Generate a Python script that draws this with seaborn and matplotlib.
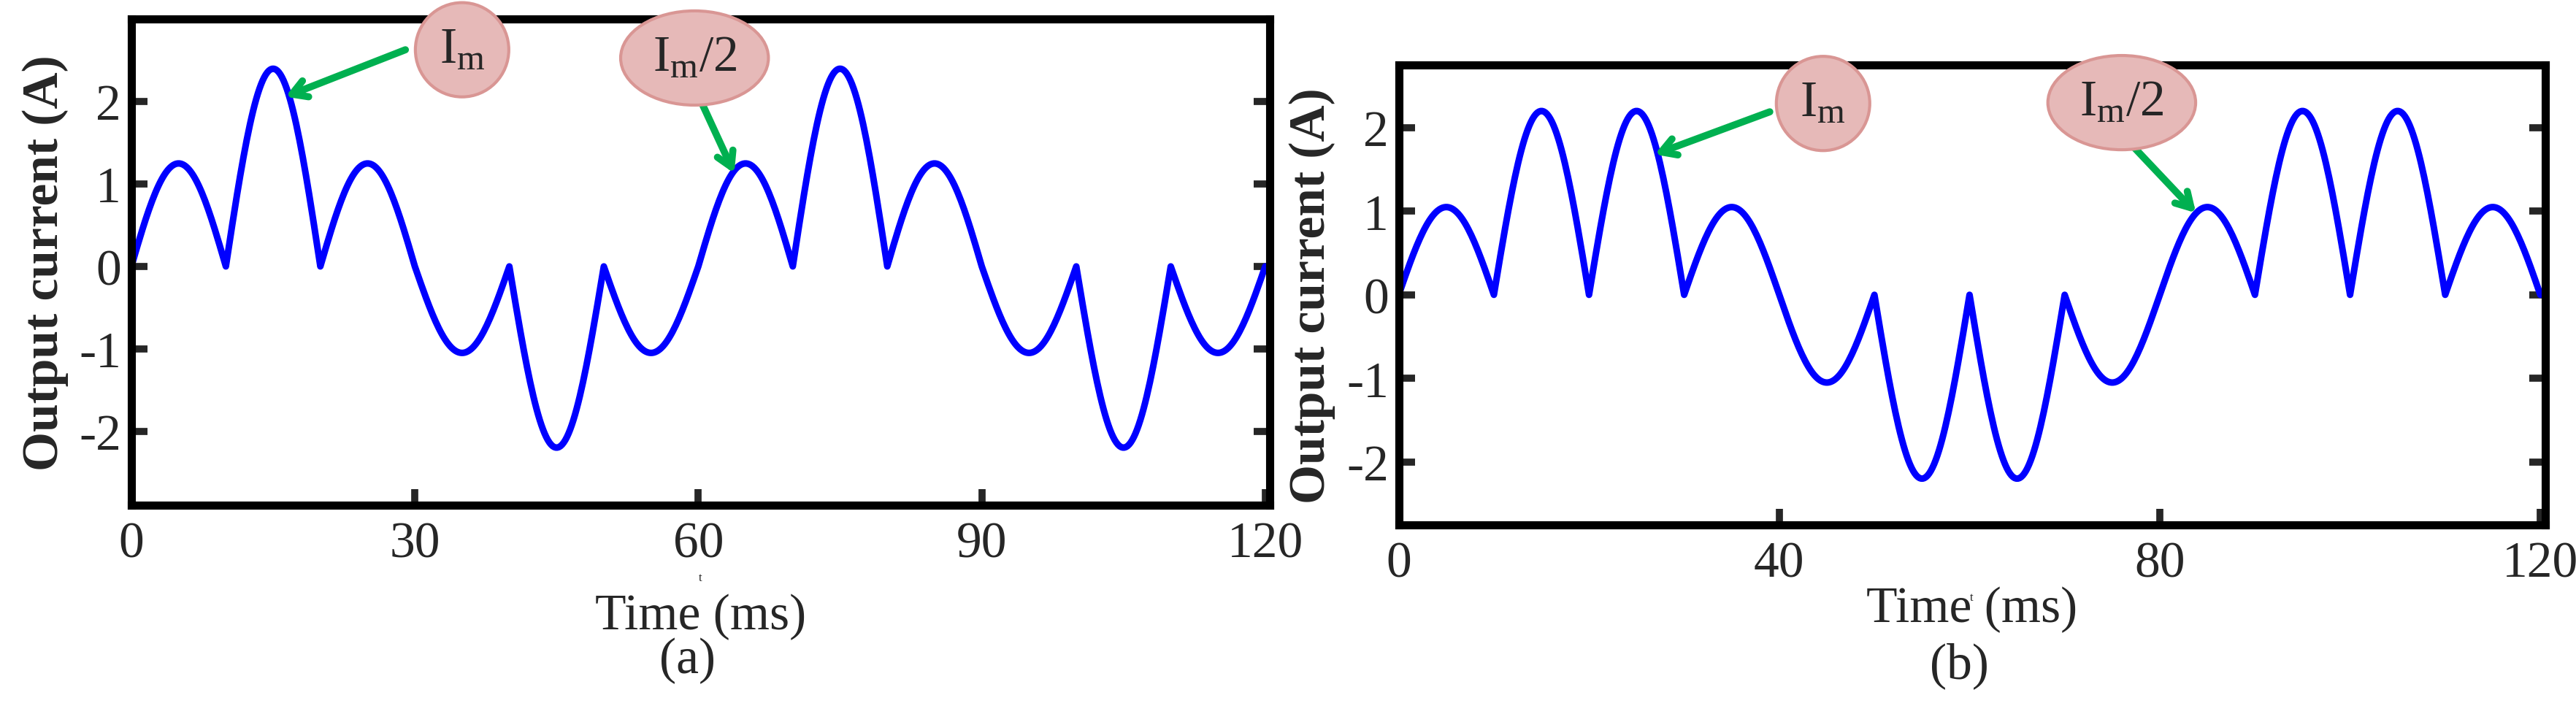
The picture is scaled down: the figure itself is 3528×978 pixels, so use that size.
import numpy as np
import pandas as pd
import matplotlib
matplotlib.use("Agg")
import matplotlib.pyplot as plt
import seaborn as sns

sns.set_theme(style="white")
plt.rcParams['font.family'] = ['Liberation Serif', 'DejaVu Serif']
plt.rcParams['mathtext.fontset'] = 'custom'
plt.rcParams['mathtext.rm'] = 'Liberation Serif'
plt.rcParams['mathtext.it'] = 'Liberation Serif'
plt.rcParams['axes.unicode_minus'] = False

# ==================== 数据 ====================
# 每个半波(10 ms)的峰值, 符号表示极性
LOBE_MS = 10
peaks_a = [1.25, 2.4, 1.25, -1.05, -2.2, -1.05, 1.25, 2.4, 1.25, -1.05, -2.2, -1.05]
peaks_b = [1.05, 2.2, 2.2, 1.05, -1.05, -2.2, -2.2, -1.05, 1.05, 2.2, 2.2, 1.05]
xticks_a = [0, 30, 60, 90, 120]
xticks_b = [0, 40, 80, 120]
yticks = [-2, -1, 0, 1, 2]

FS = 50


def waveform(peaks):
    # 由各半波峰值拼出波形
    t_all, i_all = [], []
    for k, p in enumerate(peaks):
        t = np.linspace(0, LOBE_MS, 60)
        t_all.append(t + k * LOBE_MS)
        i_all.append(p * np.sin(np.pi * t / LOBE_MS))
    return pd.DataFrame({'t': np.concatenate(t_all), 'i': np.concatenate(i_all)})


fig = plt.figure(figsize=(35.28, 9.79), dpi=100)
ax_a = fig.add_axes([0.051, 0.292, 0.442, 0.680])
ax_b = fig.add_axes([0.543, 0.265, 0.445, 0.643])

GREEN = '#00b050'
ell = dict(boxstyle='ellipse,pad=0.2', fc='#e6b9b8', ec='#d99694', lw=3)


def style(ax, df, xticks, ylim, xlabel_px, sub, sub_px):
    sns.lineplot(data=df, x='t', y='i', ax=ax, color='#0000ff', lw=6.5, sort=False)
    ax.set_xlim(0, 120.5)
    ax.set_ylim(*ylim)
    ax.set_xticks(xticks)
    ax.set_yticks(yticks)
    for s in ax.spines.values():
        s.set_linewidth(8)
        s.set_color('black')
    ax.tick_params(axis='both', direction='in', length=16, width=7, labelsize=FS,
                   left=True, right=True, bottom=True, top=False)
    ax.tick_params(axis='x', pad=16)
    ax.tick_params(axis='y', pad=10)
    ax.set_ylabel('Output current (A)', fontsize=FS, fontweight='bold')
    ax.yaxis.set_label_coords(-0.055, 0.5)
    bb = ax.get_position()
    cx = bb.x0 + bb.width / 2
    fig.text(cx, 1 - xlabel_px / 979, 'Time (ms)', fontsize=FS, ha='center', va='center')
    fig.text(cx - 0.005, 1 - sub_px / 979, sub, fontsize=FS, ha='center', va='center')


def note(ax, label, center, tail, head):
    ax.annotate('', xy=head, xytext=tail,
                arrowprops=dict(arrowstyle='->,head_length=1.2,head_width=0.7',
                                color=GREEN, lw=7, shrinkA=0, shrinkB=0))
    ax.text(center[0], center[1], label, fontsize=FS, ha='center', va='center', bbox=ell)


style(ax_a, waveform(peaks_a), xticks_a, (-2.9, 3.0), 845, '(a)', 905)
style(ax_b, waveform(peaks_b), xticks_b, (-2.75, 2.75), 835, '(b)', 912)

note(ax_a, r'I$_\mathrm{m}$', (35, 2.63), (29.0, 2.63), (16.3, 2.06))
note(ax_a, r'I$_\mathrm{m}$/2', (59.6, 2.53), (59.5, 2.2), (63.8, 1.13))
note(ax_b, r'I$_\mathrm{m}$', (44.6, 2.29), (39.0, 2.19), (26.9, 1.68))
note(ax_b, r'I$_\mathrm{m}$/2', (76, 2.30), (76, 1.92), (83.8, 0.98))

fig.savefig('out.png', dpi=100)
